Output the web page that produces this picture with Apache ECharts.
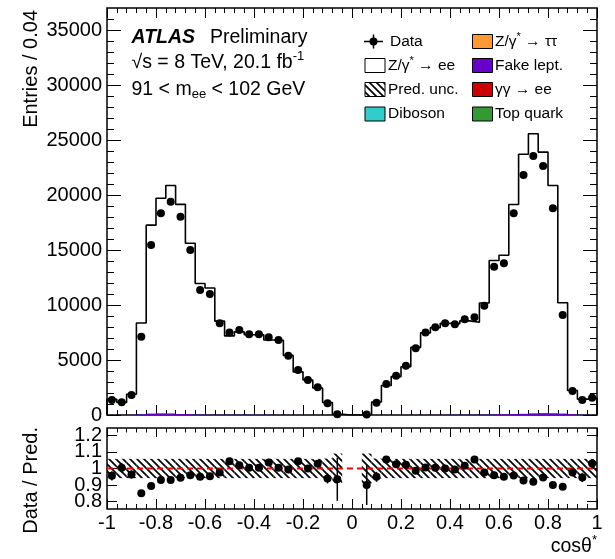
<!DOCTYPE html>
<html><head><meta charset="utf-8">
<script src="https://cdn.jsdelivr.net/npm/echarts@6/dist/echarts.min.js"></script>
<style>html,body{margin:0;padding:0;background:#fff}#c{width:615px;height:559px}</style>
</head><body><div id="c"></div>
<script>
// ---------------- data ----------------
const xMin = -1, xMax = 1, binWidth = 0.04;   // 50 bins in cos(theta*)
const dataCounts = [1360,1150,1820,7120,15450,18330,19390,18030,15000,11360,
  11000,8330,7510,7730,7330,7330,7060,6820,5390,4090,
  3180,2515,1060,60,null,null,55,1120,2820,3575,
  4485,6060,7510,7970,8330,8240,8700,8880,9940,13480,
  13790,18330,21820,23540,22630,18790,9090,2180,1360,1575];
const predZee = [1430,1145,1890,8370,17260,19700,20860,19150,15620,11960,
  11550,8530,7190,7560,7300,7300,6820,6790,5420,3920,
  3180,2450,1130,64,0,0,61,1180,2680,3490,
  4390,6150,7470,7940,8330,8290,8560,8430,10180,14040,
  14520,19130,23700,25570,23900,20860,10200,2230,1440,1530];
const fakeLept = [10,10,12,60,130,150,140,90,60,30,
  25,20,20,20,18,18,16,15,12,10,
  8,6,4,0,0,0,0,4,6,8,
  10,12,14,16,18,18,20,22,30,45,
  60,80,110,150,170,160,130,60,15,12];
const ratio = [0.956,1.004,0.964,0.851,0.895,0.930,0.930,0.944,0.960,0.950,
  0.954,0.976,1.044,1.020,1.004,1.004,1.036,1.004,0.994,1.044,
  1.000,1.028,0.940,0.935,null,null,0.900,0.950,1.054,1.026,
  1.022,0.986,1.006,1.004,1.000,0.994,1.016,1.054,0.976,0.960,
  0.950,0.958,0.927,0.920,0.946,0.900,0.890,0.976,0.946,1.030];
const ratioErr = [0.028,0.030,0.025,0.012,0.009,0.008,0.008,0.008,0.009,0.010,
  0.010,0.012,0.012,0.012,0.012,0.012,0.012,0.013,0.014,0.016,
  0.018,0.020,0.030,0.130,null,null,0.120,0.030,0.020,0.018,
  0.016,0.014,0.012,0.012,0.012,0.012,0.012,0.012,0.011,0.009,
  0.009,0.008,0.007,0.007,0.007,0.008,0.011,0.022,0.028,0.027];
const predUnc = [0.058,0.058,0.058,0.058,0.058,0.058,0.058,0.058,0.058,0.058,
  0.058,0.058,0.058,0.058,0.058,0.058,0.058,0.058,0.058,0.058,
  0.058,0.058,0.060,0.090,null,null,0.090,0.060,0.058,0.058,
  0.058,0.058,0.058,0.058,0.058,0.058,0.058,0.058,0.058,0.058,
  0.058,0.058,0.058,0.058,0.058,0.058,0.058,0.058,0.058,0.058];
const yTicksTop = [0,5000,10000,15000,20000,25000,30000,35000];
const yTicksRatio = [0.8,0.9,1,1.1,1.2];
const xTickInterval = 0.2;

// ---------------- helpers ----------------
const FONT = "'Liberation Sans', Arial, Helvetica, sans-serif";
const lo = i => xMin + i * binWidth;
const hi = i => xMin + (i + 1) * binWidth;
const ctr = i => xMin + (i + 0.5) * binWidth;

const mctx = document.createElement('canvas').getContext('2d');
function tw(t, size, weight, style) {
  mctx.font = `${style||'normal'} ${weight||'normal'} ${size}px ${FONT}`;
  return mctx.measureText(t).width;
}
function txt(x, y, t, size, opts) {
  opts = opts || {};
  return {type:'text', x:x, y:y, silent:true, rotation: opts.rotation || 0,
    style:{text:t, fontFamily:FONT, fontSize:size, fontWeight:opts.weight||'normal',
      fontStyle:opts.style||'normal', fill:'#000', align:opts.align||'left', verticalAlign:'middle'}};
}
function pieces(x, y, arr) {
  const out = []; let cx = x;
  for (const p of arr) {
    out.push(txt(cx, y + (p.dy||0), p.t, p.size, p));
    cx += tw(p.t, p.size, p.weight, p.style);
  }
  return out;
}
function makeHatch(s, lw) {
  const c = document.createElement('canvas'); c.width = s; c.height = s;
  const g = c.getContext('2d'); g.strokeStyle = '#000'; g.lineWidth = lw;
  g.beginPath();
  for (const k of [-s, 0, s]) { g.moveTo(-s, -s + k); g.lineTo(2*s, 2*s + k); }
  g.stroke(); return c;
}
const hatch = {image: makeHatch(7, 1.7), repeat: 'repeat'};

// ---------------- series data ----------------
const histLine = [[xMin, 0]];
predZee.forEach((v, i) => histLine.push([lo(i), v]));
histLine.push([xMax, predZee[predZee.length-1]]);
histLine.push([xMax, 0]);

const dataPts = [];
dataCounts.forEach((v, i) => { if (v != null) dataPts.push([ctr(i), v]); });
const ratioPts = [], ratioBars = [], bandRects = [], fakeRects = [];
ratio.forEach((v, i) => { if (v != null) { ratioPts.push([ctr(i), v]); ratioBars.push([ctr(i), v, ratioErr[i]]); } });
predUnc.forEach((u, i) => { if (u != null) bandRects.push([lo(i), hi(i), u]); });
fakeLept.forEach((v, i) => { if (v > 0) fakeRects.push([lo(i), hi(i), v]); });

const minorTop = [];
for (let v = 1000; v < 37000; v += 1000) if (v % 5000 !== 0) minorTop.push(v);
const ratioLabA = yTicksRatio.filter((v, i) => i % 2 === 0);
const ratioLabB = yTicksRatio.filter((v, i) => i % 2 === 1);

// ---------------- axes ----------------
const black = {color:'#000', width:1};
function xAx(grid, pos, showLabel, major, minor) {
  return {gridIndex:grid, type:'value', min:xMin, max:xMax, interval:xTickInterval, position:pos,
    axisLine:{show:false, onZero:false}, splitLine:{show:false},
    axisTick:{show:true, inside:true, length:major, lineStyle:black},
    minorTick:{show:true, splitNumber:5, length:minor, lineStyle:black},
    axisLabel:{show:showLabel, margin:4, fontFamily:FONT, fontSize:20, color:'#000',
      showMinLabel:true, showMaxLabel:true, hideOverlap:false,
      formatter: v => String(Math.round(v*10)/10)}};
}
function yAx(grid, pos, min, max, ticks, len, labels) {
  return {gridIndex:grid, type:'value', min:min, max:max, position:pos,
    axisLine:{show:false, onZero:false}, splitLine:{show:false},
    axisTick:{show:len > 0, inside:true, length:len, customValues:ticks, lineStyle:black},
    axisLabel:{show:!!labels, customValues:labels || ticks, margin:5, fontFamily:FONT, fontSize:20, color:'#000',
      showMinLabel:true, showMaxLabel:true, hideOverlap:false,
      formatter: v => String(Math.round(v*10)/10)}};
}
const rMin = 0.756, rMax = 1.244;

const option = {
  animation:false,
  backgroundColor:'#fff',
  grid:[
    {left:107, right:18, top:8, height:407, show:true, borderColor:'#000', borderWidth:1.5, outerBoundsMode:'none'},
    {left:107, right:18, top:428, height:81, show:true, borderColor:'#000', borderWidth:1.5, outerBoundsMode:'none'}
  ],
  xAxis:[ xAx(0,'bottom',false,10,5), xAx(0,'top',false,10,5), xAx(1,'bottom',true,10,5), xAx(1,'top',false,9,4.5) ],
  yAxis:[
    yAx(0,'left',0,37000,yTicksTop,14,yTicksTop),
    yAx(0,'left',0,37000,minorTop,7,null),
    yAx(0,'right',0,37000,yTicksTop,14,null),
    yAx(0,'right',0,37000,minorTop,7,null),
    yAx(1,'left',rMin,rMax,yTicksRatio,10,ratioLabA),
    yAx(1,'right',rMin,rMax,yTicksRatio,10,null),
    yAx(1,'left',rMin,rMax,ratioLabB,0,ratioLabB)
  ],
  series:[
    {name:'Fake lept.', type:'custom', xAxisIndex:0, yAxisIndex:0, data:fakeRects, z:2, clip:true,
      renderItem:(p, api) => { const a = api.coord([api.value(0), api.value(2)]); const b = api.coord([api.value(1), 0]);
        return {type:'rect', shape:{x:a[0], y:a[1], width:b[0]-a[0], height:b[1]-a[1]}, style:{fill:'#6600CC'}}; }},
    {name:'Z/γ* → ee', type:'line', xAxisIndex:0, yAxisIndex:0, data:histLine, step:'end', symbol:'none', z:3,
      lineStyle:{color:'#000', width:1.6}},
    {name:'Data', type:'scatter', xAxisIndex:0, yAxisIndex:0, data:dataPts, symbol:'circle', symbolSize:8, z:5,
      itemStyle:{color:'#000', opacity:1}},
    {name:'Pred. unc.', type:'custom', xAxisIndex:2, yAxisIndex:4, data:bandRects, z:2, clip:true,
      renderItem:(p, api) => { const a = api.coord([api.value(0), 1 + api.value(2)]); const b = api.coord([api.value(1), 1 - api.value(2)]);
        return {type:'rect', shape:{x:a[0], y:a[1], width:b[0]-a[0], height:b[1]-a[1]}, style:{fill:hatch, stroke:null}}; }},
    {name:'unity', type:'line', xAxisIndex:2, yAxisIndex:4, data:[[xMin,1],[xMax,1]], symbol:'none', z:3,
      lineStyle:{color:'#ff0000', width:2.2, type:[6,4]}},
    {name:'ratio err', type:'custom', xAxisIndex:2, yAxisIndex:4, data:ratioBars, z:4, clip:true,
      renderItem:(p, api) => { const a = api.coord([api.value(0), api.value(1) + api.value(2)]); const b = api.coord([api.value(0), api.value(1) - api.value(2)]);
        return {type:'line', shape:{x1:a[0], y1:a[1], x2:b[0], y2:b[1]}, style:{stroke:'#000', lineWidth:1.5}}; }},
    {name:'Data / Pred.', type:'scatter', xAxisIndex:2, yAxisIndex:4, data:ratioPts, symbol:'circle', symbolSize:8, z:5,
      itemStyle:{color:'#000', opacity:1}}
  ],
  graphic:[]
};

// ---------------- texts & legend ----------------
const G = [];
G.push(txt(131.5, 38, 'ATLAS', 19.5, {weight:'bold', style:'italic'}));
G.push(txt(210, 38, 'Preliminary', 19.5));
G.push(...pieces(131.5, 63, [{t:'√s = 8 TeV, 20.1 fb', size:19.5}, {t:'-1', size:13, dy:-7}]));
G.push(...pieces(131.5, 89.5, [{t:'91 < m', size:19.5}, {t:'ee', size:13, dy:5}, {t:' < 102 GeV', size:19.5}]));

G.push(txt(31, 10, 'Entries / 0.04', 20, {align:'right', rotation:Math.PI/2}));
G.push(txt(31, 427, 'Data / Pred.', 20, {align:'right', rotation:Math.PI/2}));
const cw = tw('*', 13);
G.push(txt(597 - cw, 547, 'cosθ', 19.5, {align:'right'}));
G.push(txt(597 - cw, 540, '*', 13));

const rows = [41.5, 65.5, 89.5, 114];
const LS = 15.5;
// Data marker
G.push({type:'line', silent:true, shape:{x1:364, y1:rows[0], x2:383, y2:rows[0]}, style:{stroke:'#000', lineWidth:1.5}});
G.push({type:'line', silent:true, shape:{x1:373.5, y1:rows[0]-7, x2:373.5, y2:rows[0]+7}, style:{stroke:'#000', lineWidth:1.5}});
G.push({type:'circle', silent:true, shape:{cx:373.5, cy:rows[0], r:4}, style:{fill:'#000'}});
G.push(txt(390, rows[0], 'Data', LS));
function box(x, y, fill) { return {type:'rect', silent:true, shape:{x:x, y:y-7, width:20, height:14}, style:{fill:fill, stroke:'#000', lineWidth:1}}; }
G.push(box(365, rows[1], '#fff'));
G.push(...pieces(388, rows[1], [{t:'Z/γ', size:LS}, {t:'*', size:11, dy:-5}, {t:' → ee', size:LS}]));
G.push(box(365, rows[2], hatch));
G.push(txt(388, rows[2], 'Pred. unc.', LS));
G.push(box(365, rows[3], '#33CCCC'));
G.push(txt(388, rows[3], 'Diboson', LS));

G.push(box(472.5, rows[0], '#FF9933'));
G.push(...pieces(495, rows[0], [{t:'Z/γ', size:LS}, {t:'*', size:11, dy:-5}, {t:' → ττ', size:LS}]));
G.push(box(472.5, rows[1], '#6600CC'));
G.push(txt(495, rows[1], 'Fake lept.', LS));
G.push(box(472.5, rows[2], '#CC0000'));
G.push(txt(495, rows[2], 'γγ → ee', LS));
G.push(box(472.5, rows[3], '#339933'));
G.push(txt(495, rows[3], 'Top quark', LS));
option.graphic = G;

const chart = echarts.init(document.getElementById('c'), null, {renderer:'canvas'});
chart.setOption(option);
</script></body></html>
